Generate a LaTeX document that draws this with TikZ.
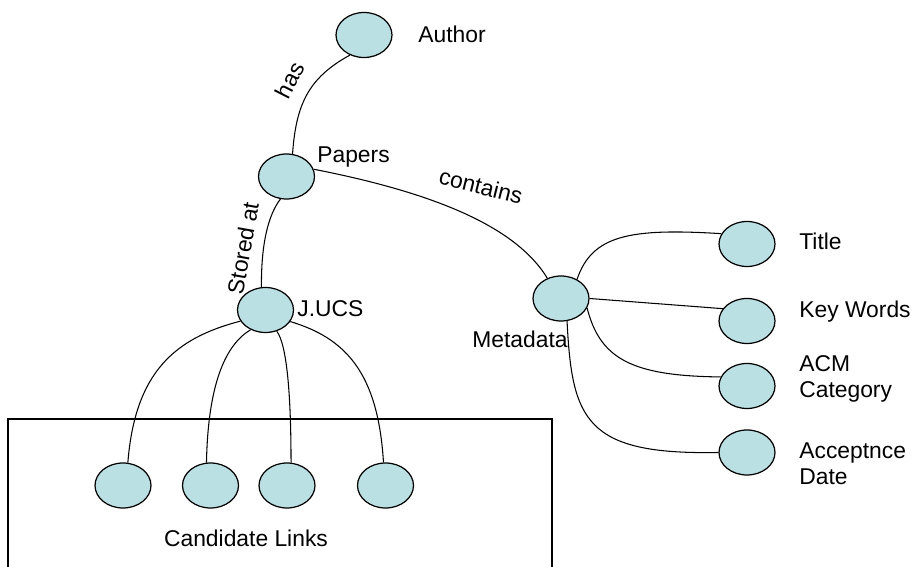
\documentclass[tikz,border=0pt]{standalone}
\usepackage{fontspec}
\setmainfont{Liberation Sans}
\usepackage{tikz}
\usetikzlibrary{shapes}
\definecolor{celeste}{RGB}{187, 224, 227}
\tikzset{
    ent/.style={draw, ellipse, fill=celeste, minimum width=1.12cm, minimum height=0.9cm, inner sep=0pt, line width=0.7pt},
    lbl/.style={font=\fontsize{13}{14.8}\selectfont, inner sep=0pt},
    conn/.style={-, black, line width=0.6pt},
}

\begin{document}
\begin{tikzpicture}[x=0.02cm, y=-0.02cm]
        \useasboundingbox (0,0) rectangle (914,567);

        % entities
        \node [ent] (author) at (364,35) {};
        \node [ent] (papers) at (286.5,176.5) {};
        \node [ent] (jucs) at (265.5,310) {};
        \node [ent] (meta) at (561,298.5) {};
        \node [ent] (title) at (747,244) {};
        \node [ent] (keyw) at (747,321) {};
        \node [ent] (acm) at (747,386) {};
        \node [ent] (accept) at (747,452.5) {};
        \node [ent] (c1) at (123,485.5) {};
        \node [ent] (c2) at (210.5,485.5) {};
        \node [ent] (c3) at (287,485.5) {};
        \node [ent] (c4) at (385.5,485.5) {};

        % names
        \node [lbl, anchor=base west] (authorl) at (418,43) {Author};
        \node [lbl, anchor=base west] (papersl) at (317,163) {Papers};
        \node [lbl, anchor=base west] (jucsl) at (297,317) {J.UCS};
        \node [lbl, anchor=base west] (metal) at (472,348) {Metadata};
        \node [lbl, anchor=base west] (titlel) at (799,250) {Title};
        \node [lbl, anchor=base west] (keywl) at (799,318) {Key Words};
        \node [lbl, anchor=base west, align=left] (acml) at (799,398) {ACM\\Category};
        \node [lbl, anchor=base west, align=left] (acceptl) at (799,485) {Acceptnce\\Date};
        \node [lbl, anchor=base] (candl) at (246,547) {Candidate Links};

        % candidate box
        \draw [line width=0.7pt] (8,567) -- (8,419) -- (552,419) -- (552,567);

        % links
        \draw[conn] (author.235) .. controls (308,78) and (296,105) .. (papers.75);
        \draw[conn] (papers.255) .. controls (268,215) and (261,245) .. (jucs.100);
        \draw[conn] (papers.15) .. controls (430,192) and (515,225) .. (meta.124);
        \draw[conn] (jucs.204) .. controls (175,338) and (135,372) .. (c1.78);
        \draw[conn] (jucs.233) .. controls (225,345) and (208,385) .. (c2.100);
        \draw[conn] (jucs.298) .. controls (287,345) and (291,395) .. (c3.80);
        \draw[conn] (jucs.335) .. controls (345,338) and (378,372) .. (c4.95);
        \draw[conn] (meta.50) .. controls (592,235) and (630,228) .. (title.158);
        \draw[conn] (meta.east) -- (keyw.153);
        \draw[conn] (meta.340) .. controls (600,358) and (630,376) .. (acm.161);
        \draw[conn] (meta.285) .. controls (572,420) and (585,455) .. (accept.west);

        % link labels
        \node [lbl, rotate=63] (hasl) at (290,80) {has};
        \node [lbl, rotate=80] (storedl) at (243,248) {Stored at};
        \node [lbl, rotate=-14] (containsl) at (481,186) {contains};
\end{tikzpicture}
\end{document}
